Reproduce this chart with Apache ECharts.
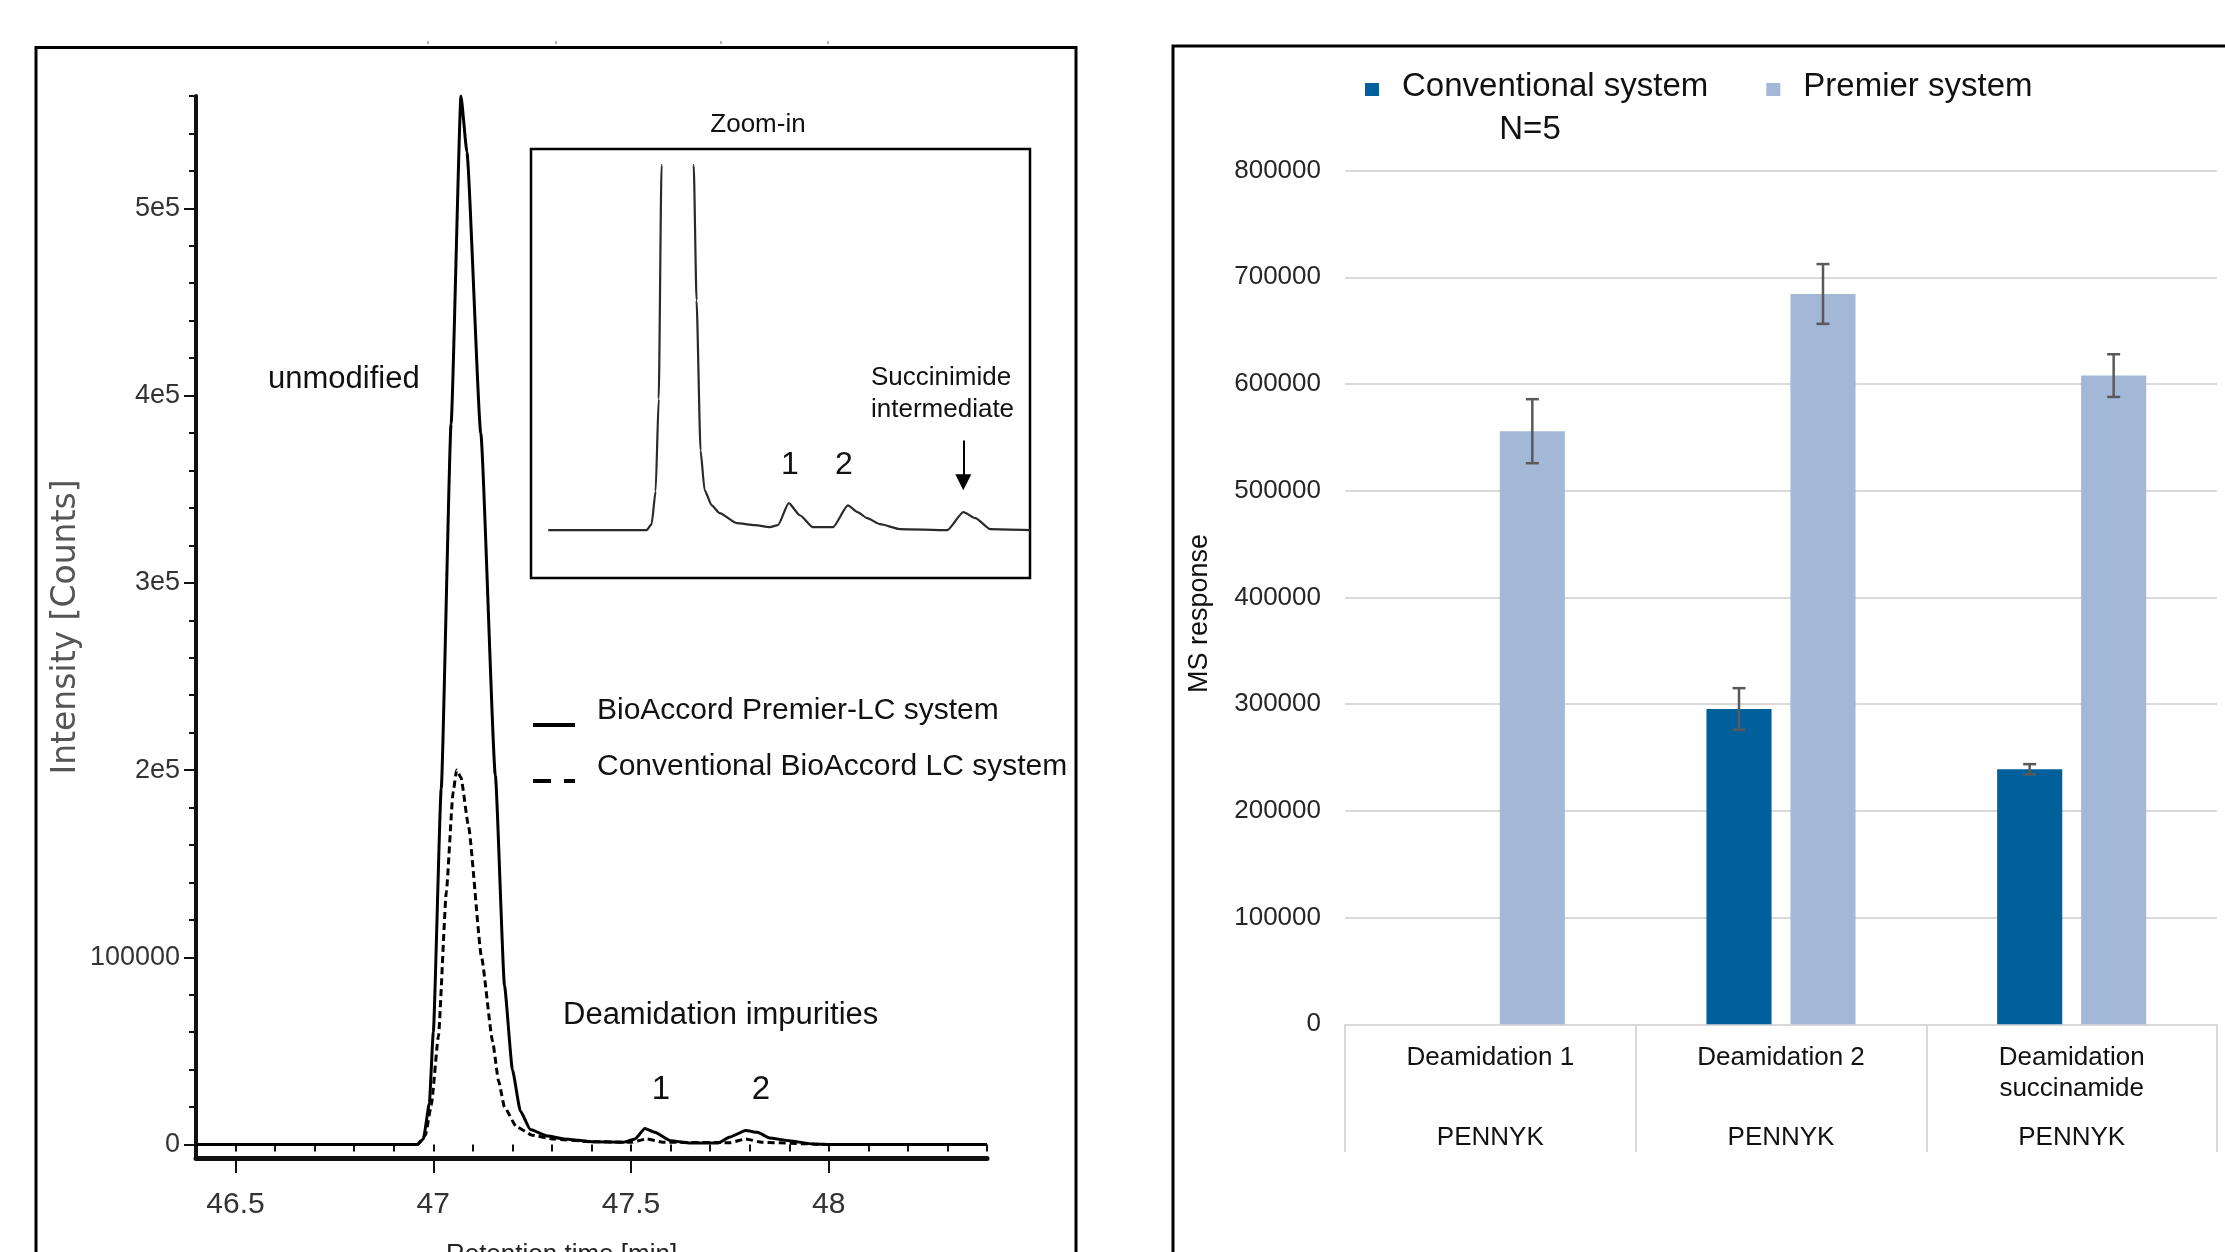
<!DOCTYPE html>
<html>
<head>
<meta charset="utf-8">
<title>Deamidation impurities - BioAccord Premier vs conventional LC</title>
<script src="https://cdn.jsdelivr.net/npm/echarts@6.0.0/dist/echarts.min.js"></script>
<style>
  html, body { margin: 0; padding: 0; background: #fff; }
  #chart { width: 2225px; height: 1252px; }
</style>
</head>
<body>
<div id="chart"></div>
<script>
/* global echarts */

// chromatogram, BioAccord Premier-LC (solid trace)
const premierTime = [46.40, 46.96, 46.975, 46.99, 47.00, 47.02, 47.045, 47.07, 47.085, 47.12, 47.157, 47.18,
  47.20, 47.22, 47.245, 47.29, 47.33, 47.40, 47.48, 47.51, 47.535, 47.56, 47.60, 47.65, 47.72, 47.75,
  47.79, 47.82, 47.85, 47.90, 47.96, 48.00, 48.40];
const premierCounts = [0, 0, 3000, 22000, 60000, 190000, 385000, 560000, 530000, 380000, 197000, 85000,
  40000, 18000, 8000, 4500, 3000, 1500, 1200, 3000, 8500, 6500, 2000, 800, 800, 4000,
  7500, 6500, 3500, 2000, 300, 0, 0];

// chromatogram, conventional BioAccord LC (dashed trace)
const conventionalTime = [46.40, 46.96, 46.98, 46.995, 47.013, 47.033, 47.05, 47.059, 47.07, 47.089, 47.122,
  47.15, 47.165, 47.18, 47.21, 47.25, 47.30, 47.40, 47.50, 47.54, 47.58, 47.75, 47.79, 47.83, 47.96, 48.00, 48.40];
const conventionalCounts = [0, 0, 5000, 21000, 58000, 135000, 188000, 200000, 196000, 170000, 100000,
  55000, 34000, 20000, 9500, 5000, 3000, 1500, 1200, 3000, 1200, 1000, 3000, 1200, 300, 0, 0];

// zoom-in of the premier trace
const insetTime = [46.533, 46.949, 46.97, 46.987, 47.0, 47.012, 47.07, 47.148, 47.16, 47.177, 47.194, 47.224,
  47.258, 47.33, 47.406, 47.47, 47.504, 47.55, 47.597, 47.652, 47.737, 47.8, 47.843, 47.881, 47.936,
  48.02, 48.22, 48.288, 48.339, 48.402, 48.57];
const insetCounts = [0, 0, 1700, 11000, 37000, 103000, 560000, 103000, 64800, 22500, 11300, 7000,
  4800, 2000, 1400, 850, 1400, 7600, 4200, 850, 850, 7000, 5000, 3400, 1700,
  300, 0, 5100, 3400, 300, 0];
const succinimideArrow = [[48.288, 25300], [48.288, 13500]];

// chromatogram axes
const timeTicks = [46.5, 47, 47.5, 48];
const timeTickLabels = ['46.5', '47', '47.5', '48'];
const timeMinorTicks = [46.4, 46.5, 46.6, 46.7, 46.8, 46.9, 47.0, 47.1, 47.2, 47.3, 47.4, 47.5, 47.6,
  47.7, 47.8, 47.9, 48.0, 48.1, 48.2, 48.3, 48.4];
const intensityTicks = [0, 100000, 200000, 300000, 400000, 500000];
const intensityTickLabels = ['0', '100000', '2e5', '3e5', '4e5', '5e5'];
const intensityMinorTicks = [0, 20000, 40000, 60000, 80000, 100000, 120000, 140000, 160000, 180000, 200000,
  220000, 240000, 260000, 280000, 300000, 320000, 340000, 360000, 380000, 400000, 420000, 440000,
  460000, 480000, 500000, 520000, 540000, 560000];

// MS response bar chart (N=5)
const categories = ['Deamidation 1', 'Deamidation 2', 'Deamidation\nsuccinamide'];
const peptides = ['PENNYK', 'PENNYK', 'PENNYK'];
const conventionalMean = [0, 295500, 239000];
const conventionalErr = [0, 19500, 4800];
const premierMean = [555800, 684400, 607900];
const premierErr = [30000, 28000, 20000];

const SANS = "'Liberation Sans', Arial, sans-serif";
const BLUE_DARK = '#00609c';
const BLUE_LIGHT = '#a3b7d7';
const BAR_WIDTH = 0.224;
const BAR_GAP = 0.29;

const zip = (xs, ys) => xs.map((x, i) => [x, ys[i]]);
const pickLabel = (ticks, labels) => (v) => {
  const i = ticks.findIndex((t) => Math.abs(t - v) < 1e-9);
  return i < 0 ? '' : labels[i];
};

function errorBars(side, color) {
  return (params, api) => {
    const err = api.value(2);
    if (!err) {
      return null;
    }
    const idx = api.value(0);
    const mean = api.value(1);
    const band = api.size([1, 0])[0];
    const dx = side * band * BAR_WIDTH * (1 + BAR_GAP) / 2;
    const hi = api.coord([idx, mean + err]);
    const lo = api.coord([idx, mean - err]);
    const x = hi[0] + dx;
    const cap = 6.5;
    const style = { stroke: color, lineWidth: 2.5 };
    return {
      type: 'group',
      children: [
        { type: 'line', shape: { x1: x, y1: hi[1], x2: x, y2: lo[1] }, style },
        { type: 'line', shape: { x1: x - cap, y1: hi[1], x2: x + cap, y2: hi[1] }, style },
        { type: 'line', shape: { x1: x - cap, y1: lo[1], x2: x + cap, y2: lo[1] }, style },
      ],
    };
  };
}

function text(x, y, str, size, extra) {
  return {
    type: 'text',
    x,
    y,
    z: 10,
    style: Object.assign({
      text: str,
      font: `${size}px ${SANS}`,
      fill: '#111',
      align: 'left',
      textAlign: 'left',
      verticalAlign: 'middle',
      textVerticalAlign: 'middle',
    }, extra || {}),
  };
}

const myChart = echarts.init(document.getElementById('chart'));

const option = {
  animation: false,
  backgroundColor: '#fff',
  grid: [
    { left: 196, top: 96, width: 791, height: 1062, outerBoundsMode: 'none' },
    { left: 531, top: 165, width: 499, height: 413, outerBoundsMode: 'none' },
    { left: 1345, top: 170.6, width: 872, height: 853.7, outerBoundsMode: 'none' },
  ],
  legend: [
    {
      data: [
        { name: 'BioAccord Premier-LC system', icon: 'rect' },
        { name: 'Conventional BioAccord LC system', icon: 'path://M0,0H18V4H0Z M31,0H42V4H31Z' },
      ],
      orient: 'vertical',
      left: 533,
      top: 696,
      padding: 0,
      itemWidth: 42,
      itemHeight: 4,
      itemGap: 11,
      selectedMode: false,
      formatter: (name) => `{t|${name}}\n{s| }`,
      textStyle: {
        fontFamily: SANS,
        fontSize: 30,
        color: '#111',
        padding: [0, 0, 0, 17],
        rich: {
          t: { fontFamily: SANS, fontSize: 30, lineHeight: 30, color: '#111' },
          s: { fontSize: 2, lineHeight: 28 },
        },
      },
    },
    {
      data: ['Conventional system', 'Premier system'],
      orient: 'horizontal',
      left: 1365,
      top: 70,
      padding: 0,
      icon: 'rect',
      itemWidth: 14,
      itemHeight: 13,
      itemGap: 58,
      selectedMode: false,
      formatter: (name) => `{t|${name}}\n{s| }`,
      textStyle: {
        fontFamily: SANS,
        fontSize: 33,
        color: '#111',
        padding: [0, 0, 0, 18],
        rich: {
          t: { fontFamily: SANS, fontSize: 33, lineHeight: 36, color: '#111' },
          s: { fontSize: 2, lineHeight: 6 },
        },
      },
    },
  ],
  xAxis: [
    {
      gridIndex: 0,
      type: 'value',
      min: 46.4,
      max: 48.4,
      position: 'bottom',
      axisLine: { onZero: false, lineStyle: { color: '#111', width: 5 } },
      axisTick: { customValues: timeTicks, length: 15, lineStyle: { color: '#111', width: 2 } },
      axisLabel: {
        customValues: timeTicks,
        formatter: pickLabel(timeTicks, timeTickLabels),
        fontFamily: SANS,
        fontSize: 30,
        color: '#333',
        margin: 32,
      },
      splitLine: { show: false },
      name: 'Retention time [min]',
      nameLocation: 'middle',
      nameGap: 84,
      nameMoveOverlap: false,
      nameTextStyle: {
        fontFamily: SANS, fontSize: 26, color: '#222', padding: [0, 60, 0, 0],
      },
    },
    {
      gridIndex: 0,
      type: 'value',
      min: 46.4,
      max: 48.4,
      position: 'bottom',
      axisLine: { show: false },
      axisTick: { customValues: timeMinorTicks, length: 7, lineStyle: { color: '#111', width: 2 } },
      axisLabel: { show: false },
      splitLine: { show: false },
    },
    {
      gridIndex: 1, type: 'value', min: 46.46, max: 48.57, show: false,
    },
    {
      gridIndex: 2,
      type: 'category',
      data: categories,
      axisLine: { lineStyle: { color: '#d9d9d9', width: 2 } },
      axisTick: {
        show: true, interval: 0, alignWithLabel: false, length: 128, lineStyle: { color: '#d9d9d9', width: 2 },
      },
      axisLabel: {
        interval: 0,
        margin: 18,
        formatter(value, idx) {
          const lines = value.split('\n');
          if (lines.length === 1) {
            lines.push(' ');
          }
          return `${lines.map((l) => `{a|${l}}`).join('\n')}\n{b|${peptides[idx]}}`;
        },
        rich: {
          a: {
            fontFamily: SANS, fontSize: 26, lineHeight: 31, color: '#111',
          },
          b: {
            fontFamily: SANS, fontSize: 26, lineHeight: 68, color: '#111',
          },
        },
      },
    },
  ],
  yAxis: [
    {
      gridIndex: 0,
      type: 'value',
      min: -7200,
      max: 560000,
      position: 'left',
      axisLine: { show: true, onZero: false, lineStyle: { color: '#111', width: 4 } },
      axisTick: {
        show: true, customValues: intensityTicks, length: 12, lineStyle: { color: '#111', width: 2 },
      },
      axisLabel: {
        customValues: intensityTicks,
        formatter: pickLabel(intensityTicks, intensityTickLabels),
        fontFamily: SANS,
        fontSize: 27,
        color: '#333',
        margin: 16,
      },
      splitLine: { show: false },
      name: 'Intensity [Counts]',
      nameLocation: 'middle',
      nameGap: 113,
      nameMoveOverlap: false,
      nameTextStyle: { fontFamily: "'DejaVu Sans', sans-serif", fontSize: 33, color: '#555' },
    },
    {
      gridIndex: 0,
      type: 'value',
      min: -7200,
      max: 560000,
      position: 'left',
      axisLine: { show: false },
      axisTick: {
        show: true, customValues: intensityMinorTicks, length: 7, lineStyle: { color: '#111', width: 2 },
      },
      axisLabel: { show: false },
      splitLine: { show: false },
    },
    {
      gridIndex: 1, type: 'value', min: -13500, max: 103000, show: false,
    },
    {
      gridIndex: 2,
      type: 'value',
      min: 0,
      max: 800000,
      interval: 100000,
      axisLine: { show: false },
      axisTick: { show: false },
      axisLabel: {
        formatter: (v) => String(v),
        fontFamily: SANS,
        fontSize: 26,
        color: '#262626',
        margin: 24,
      },
      splitLine: { lineStyle: { color: '#d9d9d9', width: 2 } },
      name: 'MS response',
      nameLocation: 'middle',
      nameGap: 132,
      nameMoveOverlap: false,
      nameTextStyle: {
        fontFamily: SANS, fontSize: 27, color: '#111', padding: [0, 32, 0, 0],
      },
    },
  ],
  series: [
    {
      name: 'Conventional BioAccord LC system',
      type: 'line',
      xAxisIndex: 0,
      yAxisIndex: 0,
      data: zip(conventionalTime, conventionalCounts),
      symbol: 'none',
      smooth: 0.15,
      smoothMonotone: 'x',
      lineStyle: { color: '#000', width: 3, type: [7, 4] },
      itemStyle: { color: '#000' },
      z: 2,
    },
    {
      name: 'BioAccord Premier-LC system',
      type: 'line',
      xAxisIndex: 0,
      yAxisIndex: 0,
      data: zip(premierTime, premierCounts),
      symbol: 'none',
      smooth: 0.15,
      smoothMonotone: 'x',
      lineStyle: { color: '#000', width: 3 },
      itemStyle: { color: '#000' },
      z: 3,
    },
    {
      name: 'zoom-in',
      type: 'line',
      xAxisIndex: 2,
      yAxisIndex: 2,
      data: zip(insetTime, insetCounts),
      symbol: 'none',
      smooth: 0.2,
      smoothMonotone: 'x',
      clip: true,
      lineStyle: { color: '#2a2a2a', width: 2.2 },
      markLine: {
        silent: true,
        symbol: ['none', 'triangle'],
        symbolSize: 16,
        label: { show: false },
        lineStyle: { color: '#000', width: 2, type: 'solid' },
        data: [[{ coord: succinimideArrow[0] }, { coord: succinimideArrow[1] }]],
      },
    },
    {
      name: 'Conventional system',
      type: 'bar',
      xAxisIndex: 3,
      yAxisIndex: 3,
      data: conventionalMean,
      barWidth: `${BAR_WIDTH * 100}%`,
      barGap: `${BAR_GAP * 100}%`,
      itemStyle: { color: BLUE_DARK },
    },
    {
      name: 'Premier system',
      type: 'bar',
      xAxisIndex: 3,
      yAxisIndex: 3,
      data: premierMean,
      barWidth: `${BAR_WIDTH * 100}%`,
      barGap: `${BAR_GAP * 100}%`,
      itemStyle: { color: BLUE_LIGHT },
    },
    {
      name: 'Conventional error',
      type: 'custom',
      xAxisIndex: 3,
      yAxisIndex: 3,
      renderItem: errorBars(-1, '#595959'),
      data: conventionalMean.map((m, i) => [i, m, conventionalErr[i]]),
      encode: { x: 0, y: 1 },
      z: 5,
    },
    {
      name: 'Premier error',
      type: 'custom',
      xAxisIndex: 3,
      yAxisIndex: 3,
      renderItem: errorBars(1, '#595959'),
      data: premierMean.map((m, i) => [i, m, premierErr[i]]),
      encode: { x: 0, y: 1 },
      z: 5,
    },
  ],
  graphic: {
    elements: [
      // panel frames and inset box
      {
        type: 'rect', shape: { x: 36, y: 47.5, width: 1040, height: 1300 }, style: { fill: 'none', stroke: '#000', lineWidth: 3 },
      },
      {
        type: 'rect', shape: { x: 1173, y: 46, width: 1200, height: 1300 }, style: { fill: 'none', stroke: '#000', lineWidth: 3 },
      },
      {
        type: 'rect', shape: { x: 531, y: 149, width: 499, height: 429 }, style: { fill: 'none', stroke: '#000', lineWidth: 2.5 },
      },
      { type: 'line', shape: { x1: 428, y1: 41, x2: 428, y2: 44 }, style: { stroke: '#999', lineWidth: 1.5 } },
      { type: 'line', shape: { x1: 556, y1: 41, x2: 556, y2: 44 }, style: { stroke: '#999', lineWidth: 1.5 } },
      { type: 'line', shape: { x1: 721, y1: 41, x2: 721, y2: 44 }, style: { stroke: '#999', lineWidth: 1.5 } },
      { type: 'line', shape: { x1: 828, y1: 41, x2: 828, y2: 44 }, style: { stroke: '#999', lineWidth: 1.5 } },
      // annotations
      text(758, 125, 'Zoom-in', 26, { align: 'center', textAlign: 'center' }),
      text(268, 379, 'unmodified', 31),
      text(871, 362, 'Succinimide\nintermediate', 26, { verticalAlign: 'top', textVerticalAlign: 'top', lineHeight: 32 }),
      text(790, 465, '1', 32, { align: 'center', textAlign: 'center' }),
      text(844, 465, '2', 32, { align: 'center', textAlign: 'center' }),
      text(563, 1015, 'Deamidation impurities', 31),
      text(661, 1090, '1', 33, { align: 'center', textAlign: 'center' }),
      text(761, 1090, '2', 33, { align: 'center', textAlign: 'center' }),
      text(1530, 130, 'N=5', 33, { align: 'center', textAlign: 'center' }),
    ],
  },
};

myChart.setOption(option, true);
</script>
</body>
</html>
